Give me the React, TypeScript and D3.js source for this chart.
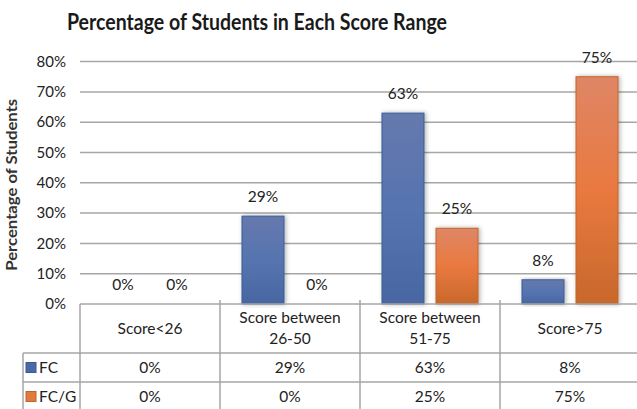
import React from "react";
import * as d3 from "d3";

const categories = ["Score<26", "Score between\n26-50", "Score between\n51-75", "Score>75"];
const seriesNames = ["FC", "FC/G"];
const fcValues = [0, 0.29, 0.63, 0.08];
const fcgValues = [0, 0, 0.25, 0.75];
const yTicks = [0, 0.1, 0.2, 0.3, 0.4, 0.5, 0.6, 0.7, 0.8];

const width = 637;
const height = 409;
const font = "Lato, 'Open Sans', sans-serif";
const gridColor = "#a6a6a6";
const textColor = "#222";

const App = () => {
  const plotLeft = 80;
  const plotRight = 640;
  const plotTop = 61.6;
  const plotBottom = 304;
  const legendLeft = 23;
  const rowFC = 353;
  const rowFCG = 382;
  const tableBottom = 411;

  const x = d3.scaleBand<string>().domain(categories).range([plotLeft, plotRight]).padding(0);
  const xSub = d3
    .scaleBand<string>()
    .domain(seriesNames)
    .range([0, x.bandwidth()])
    .paddingInner(0.222)
    .paddingOuter(0.407);
  const y = d3.scaleLinear().domain([0, 0.8]).range([plotBottom, plotTop]);
  const fmt = d3.format(".0%");

  const series = [
    { name: seriesNames[0], values: fcValues, fill: "url(#gradBlue)", stroke: "#385d96", swatch: "#4a6aa5" },
    { name: seriesNames[1], values: fcgValues, fill: "url(#gradOrange)", stroke: "#c0652a", swatch: "#e07a3e" },
  ];

  return (
    <svg
      width={width}
      height={height}
      style={{ position: "absolute", left: 0, top: 0, background: "#fff" }}
      fontFamily={font}
    >
      <defs>
        <linearGradient id="gradBlue" x1="0" y1="0" x2="0" y2="1">
          <stop offset="0%" stopColor="#6679ad" />
          <stop offset="50%" stopColor="#5574b0" />
          <stop offset="100%" stopColor="#4867a2" />
        </linearGradient>
        <linearGradient id="gradOrange" x1="0" y1="0" x2="0" y2="1">
          <stop offset="0%" stopColor="#df8666" />
          <stop offset="50%" stopColor="#e9793f" />
          <stop offset="100%" stopColor="#c8682b" />
        </linearGradient>
        <filter id="shadow" x="-30%" y="-10%" width="160%" height="120%">
          <feDropShadow dx="1.5" dy="0" stdDeviation="2" floodColor="#000" floodOpacity="0.3" />
        </filter>
      </defs>

      <rect width={width} height={height} fill="#fff" />

      {/* title */}
      <text
        x={257}
        y={30}
        textAnchor="middle"
        fontSize={23}
        fontWeight="bold"
        fill="#1a1a1a"
        textLength={380}
        lengthAdjust="spacingAndGlyphs"
      >
        Percentage of Students in Each Score Range
      </text>

      {/* y axis title */}
      <text
        transform={`translate(17, ${(plotTop + plotBottom) / 2 + 2}) rotate(-90)`}
        textAnchor="middle"
        fontSize={15.5}
        fontWeight="bold"
        fill="#333"
        textLength={172}
        lengthAdjust="spacingAndGlyphs"
      >
        Percentage of Students
      </text>

      {/* gridlines + y ticks */}
      {yTicks.map((t) => (
        <g key={t}>
          {t > 0 && (
            <line x1={plotLeft} x2={plotRight} y1={y(t)} y2={y(t)} stroke={gridColor} strokeWidth={1.5} />
          )}
          <text x={66} y={y(t)} dy="0.35em" textAnchor="end" fontSize={15} fill={textColor}>
            {fmt(t)}
          </text>
        </g>
      ))}

      {/* bars */}
      {series.map((s) => (
        <g key={s.name}>
          {categories.map((c, i) => {
            const bx = (x(c) ?? 0) + (xSub(s.name) ?? 0);
            const v = s.values[i];
            return (
              <g key={c}>
                {v > 0 && (
                  <rect
                    x={bx}
                    y={y(v)}
                    width={xSub.bandwidth()}
                    height={plotBottom - y(v)}
                    fill={s.fill}
                    stroke={s.stroke}
                    strokeWidth={1}
                    filter="url(#shadow)"
                  />
                )}
                <text
                  x={bx + xSub.bandwidth() / 2}
                  y={y(v) - 14}
                  textAnchor="middle"
                  fontSize={15.5}
                  fill={textColor}
                >
                  {fmt(v)}
                </text>
              </g>
            );
          })}
        </g>
      ))}

      {/* data table lines */}
      <g stroke={gridColor} strokeWidth={1.5}>
        <line x1={plotLeft} x2={plotRight} y1={plotBottom} y2={plotBottom} />
        <line x1={legendLeft} x2={plotRight} y1={rowFC} y2={rowFC} />
        <line x1={legendLeft} x2={plotRight} y1={rowFCG} y2={rowFCG} />
        <line x1={legendLeft} x2={legendLeft} y1={rowFC} y2={tableBottom} />
        <line x1={plotLeft} x2={plotLeft} y1={plotBottom} y2={tableBottom} />
        {categories.slice(1).map((c) => (
          <line key={c} x1={x(c)} x2={x(c)} y1={plotBottom - 4} y2={tableBottom} />
        ))}
      </g>

      {/* category headers */}
      {categories.map((c) => {
        const lines = c.split("\n");
        const cx = (x(c) ?? 0) + x.bandwidth() / 2;
        const midY = (plotBottom + rowFC) / 2;
        return (
          <text key={c} x={cx} textAnchor="middle" fontSize={15.5} fill={textColor}>
            {lines.map((l, j) => (
              <tspan key={j} x={cx} y={midY + (j - (lines.length - 1) / 2) * 21} dy="0.35em">
                {l}
              </tspan>
            ))}
          </text>
        );
      })}

      {/* table rows */}
      {series.map((s, r) => {
        const top = r === 0 ? rowFC : rowFCG;
        const bottom = r === 0 ? rowFCG : tableBottom;
        const cy = (top + bottom) / 2;
        return (
          <g key={s.name}>
            <rect x={26} y={cy - 5} width={10} height={10} fill={s.swatch} stroke={s.stroke} strokeWidth={1} />
            <text x={39} y={cy} dy="0.35em" fontSize={15.5} fill={textColor}>
              {s.name}
            </text>
            {categories.map((c, i) => (
              <text
                key={c}
                x={(x(c) ?? 0) + x.bandwidth() / 2}
                y={cy}
                dy="0.35em"
                textAnchor="middle"
                fontSize={15.5}
                fill={textColor}
              >
                {fmt(s.values[i])}
              </text>
            ))}
          </g>
        );
      })}
    </svg>
  );
};

export default App;
